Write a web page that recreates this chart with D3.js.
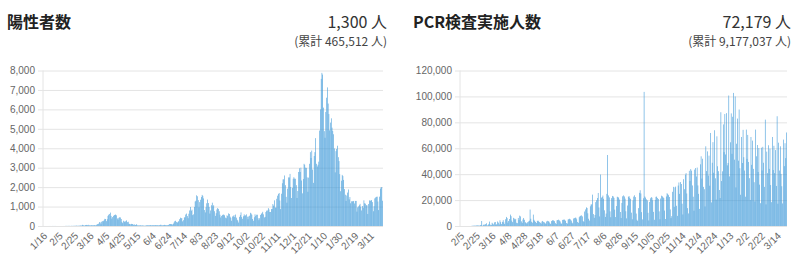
<!DOCTYPE html>
<html>
<head>
<meta charset="utf-8">
<script src="https://cdn.jsdelivr.net/npm/d3@7"></script>
<style>
body { margin: 0; background: #fff; }
svg text { font-family: "Liberation Sans", Arial, sans-serif; }
.jp { font-family: "Noto Sans CJK JP", "Noto Sans", sans-serif; }
</style>
</head>
<body>
<svg id="chart" width="800" height="258"></svg>
<script>
// daily new positives, 2020-01-16 .. 2021-03-27
var posStart = "2020-01-16";
var positives = [
  1,0,0,0,0,0,1,0,1,1,0,0,3,2,2,1,                                   // Jan
  3,0,0,0,0,0,0,0,0,0,1,0,3,8,5,6,6,7,6,3,10,6,6,10,14,11,14,22,11,   // Feb
  15,19,15,28,30,60,45,30,25,50,55,55,40,60,40,15,45,45,40,35,40,45,40,45,90,95,120,200,180,90,220, // Mar
  250,250,300,370,360,250,350,520,580,620,690,520,380,460,520,560,570,590,550,390,330,420,450,440,360,210,150,270,230,200, // Apr
  260,290,200,220,120,100,90,110,100,100,60,80,50,60,90,40,30,30,30,40,30,30,30,20,20,20,30,40,40,40,40, // May
  30,50,40,40,40,40,40,50,40,40,40,40,40,50,70,40,40,40,50,60,50,40,30,50,60,100,100,100,90,80, // Jun
  120,190,250,270,210,170,210,250,350,430,390,410,240,300,440,450,590,640,510,400,630,800,980,780,840,560,600,980,1260,1300,1580, // Jul
  1530,1330,960,1230,1350,1490,1600,1550,1420,820,700,970,1170,1360,1180,980,640,800,1070,1200,1010,1070,760,520,660,850,920,880,760,580,440, // Aug
  520,560,590,580,550,430,400,550,510,650,620,480,420,270,490,500,560,460,590,430,320,280,180,470,560,700,460,370,500,600, // Sep
  530,550,600,480,350,490,530,680,640,580,360,270,450,600,520,580,580,400,300,400,570,630,660,730,600,440,470,720,790,800,920, // Oct
  850,720,720,870,880,1130,1050,1320,950,950,1400,1560,1650,1700,1310,870,1660,2200,2400,2400,2600,2100,1500,1200,1920,2500,2500,2680,2010,1440, // Nov
  1960,2430,2510,2440,2430,2100,1440,1800,2780,2970,2780,3000,2340,1680,2420,3200,3150,3000,2990,2500,1760,2490,3200,3800,3500,3880,2900,2220,3600,3800,4520, // Dec
  3200,3060,3150,3310,4910,6000,7570,7880,7790,6090,4880,4540,5870,6600,7130,6300,5760,4920,5320,5540,5060,4890,4720,3990,2760,3850,3960,4130,3540,3340,2670, // Jan
  1790,2330,2630,2570,2370,1900,1610,1290,1570,1720,1880,1370,1490,1170,1270,1270,1270,1290,1160,1290,1290,740,960,1010,1070,1140,990,800, // Feb
  1030,930,1320,1170,1150,1070,1060,620,1130,1320,1290,1320,1330,1230,760,1020,1420,1470,1500,1510,1260,820,1510,1920,1990,2000,1300 // Mar
];
var posTotal = 465512;

// daily PCR tests, 2020-02-05 .. 2021-03-26 (three March dates missing)
var pcrStart = "2020-02-05";
var pcrSkipped = ["3/20", "3/21", "3/22"];
var pcrTests = [
  0,0,0,0,0,0,0,0,0,0,0,0,0,0,100,150,200,250,300,300,400,350,500,400,300, // Feb
  600,800,3860,300,900,1200,600,1500,2100,400,800,1600,3400,1000,700,2500,1800,1200,2800,3100,900,1400,3500,2600,1200,4400,3000,1500, // Mar
  3200,4500,2800,1500,5200,7000,6100,2600,3900,5400,8800,7600,4200,3000,6300,5700,4800,5500,2500,2200,6200,4700,8000,7400,3600,2400,5000,6200,4800,2900, // Apr
  2400,1800,2900,3500,4100,12700,5600,3300,2600,8800,4800,3900,3100,2300,3800,4200,3600,3000,2500,1800,3400,3900,3200,2800,2100,1700,3500,4000,3700,3300,2200, // May
  1600,3800,4300,4500,4100,3700,2200,1500,4400,4600,4900,4300,3500,2000,1800,4700,4800,5100,4600,3900,2300,1900,5000,5300,5600,5100,4200,2600,2000,5800, // Jun
  6100,6500,6300,5200,3100,2500,6800,7500,7900,8200,7400,3900,3100,11200,12800,14400,13900,9800,5600,4200,15200,16600,16700,24200,9200,6300,8500,18400,19900,21600,25500, // Jul
  14300,7400,39700,21800,22400,23500,21000,12100,7000,9600,24800,54800,23600,22100,11300,6800,21500,23200,22800,21700,12600,6900,15400,22600,22300,21900,20400,10800,6200,17800,22900, // Aug
  23600,22800,21100,11400,5900,15800,22500,23100,21800,20900,10300,5200,19700,22700,23700,22300,9600,4800,3900,13800,25600,27600,25100,10700,5100,21400,103500,22800,21900,20600, // Sep
  19800,10200,4300,18600,21400,22300,21800,19900,10900,4800,20100,22500,22700,21600,20800,11300,5200,21200,23400,22900,22100,21500,11900,5400,22800,25300,24600,23800,22400,12800,6100, // Oct
  7600,26400,30200,14800,29800,30400,15600,7800,31200,33600,24800,33900,32400,17200,8900,36100,28400,39600,40800,25100,13800,9700,42600,34800,43900,42700,31300,22600,11800,43500, // Nov
  44700,38200,45100,31300,24800,13200,47600,53800,36600,51900,30200,28400,15100,61500,42400,57600,38900,54300,31100,71800,18200,48800,64700,41100,73900,36800,20400,69200,46100,42300,27800, // Dec
  21600,87800,34700,42200,78400,57000,86400,55200,87100,46800,48600,100700,38300,64600,86900,55700,84300,102700,51200,100000,29800,63500,82900,50400,89900,44600,24100,68700,48600,74200,53100, // Jan
  42800,22600,74400,51800,70300,49400,36900,20100,68700,47200,65900,44100,33800,18900,74400,53800,62500,41700,60200,31900,17600,60400,42900,61100,48800,30200,82100,16700, // Feb
  57400,40800,62300,44100,59700,31600,18400,68700,43200,61900,40800,58600,30900,84700,17200,64300,42800,61500,40200,30700,17400,66700,46200,63900,52400,72179 // Mar
];
var pcrTotal = 9177037;

var posTicks = ["1/16","2/5","2/25","3/16","4/5","4/25","5/15","6/4","6/24","7/14","8/3","8/23","9/12","10/2","10/22","11/11","12/1","12/21","1/10","1/30","2/19","3/11"];
var pcrTicks = ["2/5","2/25","3/16","4/8","4/28","5/18","6/7","6/27","7/17","8/6","8/26","9/15","10/5","10/25","11/14","12/4","12/24","1/13","2/2","2/22","3/14"];
var posYTicks = [0, 1000, 2000, 3000, 4000, 5000, 6000, 7000, 8000];
var pcrYTicks = [0, 20000, 40000, 60000, 80000, 100000, 120000];

var barColor = "rgb(60,152,216)";
var fmt = d3.format(",");
var svg = d3.select("#chart");

makeGraph({
  title: "陽性者数", values: positives, start: posStart, skip: [], total: posTotal,
  xTicks: posTicks, yTicks: posYTicks, yMax: 8000,
  panel: 0, left: 43, right: 383
});
makeGraph({
  title: "PCR検査実施人数", values: pcrTests, start: pcrStart, skip: pcrSkipped, total: pcrTotal,
  xTicks: pcrTicks, yTicks: pcrYTicks, yMax: 120000,
  panel: 406, left: 460, right: 787
});

// "m/d" labels for each category, leaving out skipped dates
function makeDates(start, n, skip) {
  var out = [];
  var d = new Date(start + "T00:00:00");
  while (out.length < n) {
    var s = (d.getMonth() + 1) + "/" + d.getDate();
    if (skip.indexOf(s) < 0) out.push(s);
    d.setDate(d.getDate() + 1);
  }
  return out;
}

function makeGraph(opt) {
  var dates = makeDates(opt.start, opt.values.length, opt.skip);
  var top = 70.5, bottom = 226;

  var x = d3.scaleBand()
    .domain(d3.range(opt.values.length))
    .range([opt.left, opt.right])
    .paddingInner(0.28)
    .paddingOuter(0.14);

  var y = d3.scaleLinear()
    .domain([0, opt.yMax])
    .range([bottom, top]);

  var g = svg.append("g");

  // header
  var rightEdge = opt.right + 4;
  g.append("text").attr("class", "jp")
    .attr("x", opt.panel + 7).attr("y", 28)
    .attr("font-size", 16).attr("font-weight", "bold").attr("fill", "#222")
    .text(opt.title);
  g.append("text").attr("class", "jp")
    .attr("x", rightEdge).attr("y", 28).attr("text-anchor", "end")
    .attr("font-size", 16).attr("fill", "#333")
    .text(fmt(opt.values[opt.values.length - 1]) + " 人");
  g.append("text").attr("class", "jp")
    .attr("x", rightEdge).attr("y", 46).attr("text-anchor", "end")
    .attr("font-size", 12).attr("fill", "#444")
    .text("(累計 " + fmt(opt.total) + " 人)");

  // y axis + grid
  g.append("g")
    .attr("transform", `translate(${opt.left},0)`)
    .call(d3.axisLeft(y).tickValues(opt.yTicks).tickFormat(fmt)
      .tickSizeInner(-(opt.right - opt.left)).tickSizeOuter(0).tickPadding(8))
    .call(g => g.select(".domain").remove())
    .call(g => g.selectAll(".tick line").attr("x1", -5).attr("stroke", "#e4e4e4"))
    .call(g => g.selectAll(".tick text").attr("fill", "#666")
      .attr("font-size", 10).attr("font-family", "Liberation Sans, Arial, sans-serif"));

  g.append("line")
    .attr("x1", opt.left).attr("x2", opt.left)
    .attr("y1", top).attr("y2", bottom)
    .attr("stroke", "#e4e4e4");

  // bars
  g.append("g")
    .attr("fill", barColor)
    .selectAll("rect")
    .data(opt.values)
    .join("rect")
      .attr("x", (d, i) => x(i))
      .attr("width", x.bandwidth())
      .attr("y", d => y(d))
      .attr("height", d => y(0) - y(d));

  // x tick labels, every 20th category
  var from = 0;
  opt.xTicks.forEach(function (t) {
    var k = dates.indexOf(t, from);
    from = k + 1;
    var cx = x(k) + x.bandwidth() / 2;
    g.append("text")
      .attr("transform", `translate(${cx + 2},${bottom + 8}) rotate(-45)`)
      .attr("text-anchor", "end")
      .attr("dy", "0.35em")
      .attr("font-size", 10)
      .attr("fill", "#666")
      .text(t);
  });
}
</script>
</body>
</html>
